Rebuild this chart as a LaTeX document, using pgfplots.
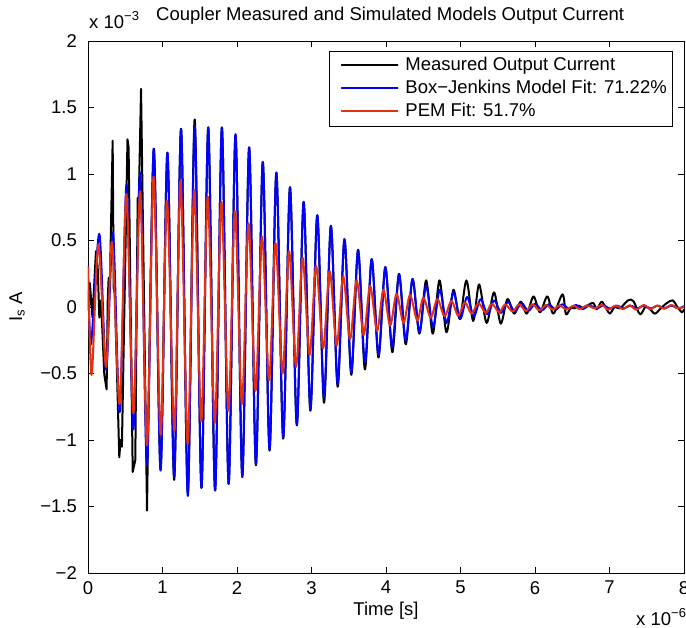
\documentclass[border=0pt]{standalone}
\usepackage{fontspec}
\setmainfont{Liberation Sans}
\usepackage{pgfplots}
\pgfplotsset{compat=1.18}
\definecolor{pemred}{RGB}{228,48,16}
\newcommand{\f}{\fontsize{18.5bp}{21bp}\selectfont}
\begin{document}
\begin{tikzpicture}
\path[use as bounding box] (-88bp,-55bp) rectangle (598bp,573bp);
\begin{axis}[
  at={(0,0)}, anchor=south west,
  scale only axis, width=596bp, height=532bp,
  xmin=0, xmax=8, ymin=-2, ymax=2,
  xtick={0,1,2,3,4,5,6,7,8}, xticklabels={0,1,2,3,4,5,6,7,8},
  ytick={-2,-1.5,-1,-0.5,0,0.5,1,1.5,2},
  yticklabels={−2,−1.5,−1,−0.5,0,0.5,1,1.5,2},
  tick align=inside, major tick length=6bp,
  axis line style={line width=0.8bp},
  every tick/.style={line width=0.8bp, black},
  tick label style={font=\f},
  xticklabel style={inner sep=0pt, yshift=-8bp},
  yticklabel style={inner sep=0pt, xshift=-11bp},
  title={Coupler Measured and Simulated Models Output Current},
  title style={at={(axis description cs:0.507,1)}, anchor=base, yshift=15bp, inner sep=0pt, font=\f},
  xlabel={Time [s]},
  xlabel style={at={(axis description cs:0.5,0)}, anchor=base, yshift=-42bp, inner sep=0pt, font=\f},
  ylabel={I\textsubscript{s} A},
  ylabel style={at={(axis description cs:-0.119,0.5)}, anchor=center, inner sep=0pt, font=\f},
  legend style={at={(1,1)}, anchor=north east, xshift=-12bp, yshift=-10bp, draw=black, fill=white,
    inner xsep=5bp, inner ysep=6bp, row sep=6bp, font=\f,
    nodes={inner sep=0pt, text height=13bp, text depth=4bp, anchor=base west},
    /tikz/every odd column/.append style={column sep=7bp}},
  legend cell align=left,
  legend image code/.code={\path (0bp,0bp); \draw[#1] (7bp,5bp) -- (63bp,5bp);},
  legend image post style={line width=1.6bp},
  every axis plot/.append style={line join=round, line cap=round},
]
\addplot[black, line width=2bp] coordinates {
(0.000,0.12) (0.012,-0.02) (0.025,0.18) (0.060,-0.08) (0.107,0.42) (0.130,0.30) (0.152,-0.08) (0.175,0.05)
(0.219,-0.51) (0.250,-0.62) (0.265,0.05) (0.277,0.22) (0.292,0.12) (0.331,1.25) (0.345,0.14) (0.360,0.10)
(0.420,-1.13) (0.437,-1.00) (0.455,-1.05) (0.530,1.26) (0.545,1.20) (0.600,-1.24) (0.635,-1.15) (0.667,0.82)
(0.680,0.75) (0.712,1.64) (0.792,-1.53)
};
\addplot[black, line width=2bp, smooth, forget plot] coordinates {
(0.792,-1.53) (0.883,1.19) (0.974,-1.22) (1.066,1.16) (1.157,-1.30) (1.249,1.34) (1.340,-1.40) (1.432,1.41)
(1.523,-1.36) (1.614,1.35) (1.706,-1.38) (1.797,1.35) (1.888,-1.33) (1.980,1.29) (2.071,-1.27) (2.163,1.20)
(2.254,-1.19) (2.346,1.09) (2.437,-1.08) (2.528,1.01) (2.620,-0.99) (2.711,0.90) (2.803,-0.89) (2.894,0.79)
(2.985,-0.78) (3.077,0.69) (3.168,-0.72) (3.260,0.61) (3.351,-0.60) (3.442,0.51) (3.534,-0.51) (3.625,0.43)
(3.717,-0.47) (3.808,0.36) (3.899,-0.38) (3.991,0.30) (4.085,-0.34) (4.175,0.245) (4.265,-0.28) (4.356,0.21)
(4.448,-0.20) (4.539,0.20) (4.628,-0.20) (4.718,0.20) (4.812,-0.19) (4.905,0.13) (4.990,-0.09) (5.080,0.20)
(5.170,-0.105) (5.250,0.17) (5.350,-0.12) (5.450,0.11) (5.540,-0.125) (5.630,0.06) (5.720,-0.05) (5.810,0.04)
(5.890,-0.05) (5.980,0.08) (6.067,-0.04) (6.165,0.08) (6.246,-0.05) (6.370,0.095) (6.416,-0.055) (6.480,-0.005)
(6.530,-0.01) (6.590,0.01) (6.650,-0.01) (6.700,0.01) (6.780,0.03) (6.830,-0.015) (6.895,0.04) (6.960,-0.015)
(7.006,-0.05) (7.070,0.0) (7.140,-0.01) (7.250,0.05) (7.320,0.045) (7.410,-0.055) (7.480,0.0) (7.540,-0.015)
(7.610,-0.05) (7.680,-0.015) (7.770,0.03) (7.850,0.05) (7.900,0.01) (7.970,-0.04) (8.000,-0.02)
};
\addplot[blue, line width=2bp, smooth] coordinates {
(0,0.30) (0.040,-0.28)
(0.152,0.55) (0.243,-0.47) (0.335,0.56) (0.426,-0.79) (0.518,0.92) (0.609,-0.92)
(0.700,1.01) (0.792,-1.19) (0.883,1.19) (0.974,-1.23) (1.066,1.16) (1.157,-1.28)
(1.249,1.34) (1.340,-1.42) (1.432,1.36) (1.523,-1.36) (1.614,1.35) (1.706,-1.38)
(1.797,1.35) (1.888,-1.33) (1.980,1.30) (2.071,-1.28) (2.163,1.20) (2.254,-1.18)
(2.346,1.09) (2.437,-1.07) (2.528,1.01) (2.620,-0.98) (2.711,0.90) (2.803,-0.88)
(2.894,0.79) (2.985,-0.77) (3.077,0.69) (3.168,-0.68) (3.260,0.61) (3.351,-0.58)
(3.442,0.51) (3.534,-0.49) (3.625,0.43) (3.717,-0.42) (3.808,0.36) (3.899,-0.36)
(3.991,0.30) (4.082,-0.30) (4.174,0.25) (4.265,-0.25) (4.356,0.21) (4.448,-0.19)
(4.539,0.16) (4.631,-0.15) (4.722,0.13) (4.813,-0.12) (4.905,0.11) (4.996,-0.09)
(5.088,0.075) (5.179,-0.07) (5.270,0.06) (5.362,-0.055) (5.453,0.05) (5.545,-0.045)
(5.636,0.04) (5.727,-0.035) (5.819,0.03) (5.910,-0.03) (6.002,0.025) (6.093,-0.025)
(6.184,0.02) (6.276,-0.02) (6.367,0.02) (6.459,-0.015) (6.550,0.015) (6.641,-0.015)
(6.733,0.012) (6.824,-0.012) (6.916,0.012) (7.007,-0.012) (7.098,0.01) (7.190,-0.01)
(7.281,0.01) (7.373,-0.01) (7.464,0.01) (7.555,-0.01) (7.647,0.01) (7.738,-0.01)
(7.830,0.01) (7.921,-0.01) (8.000,0.005)
};
\addplot[color=pemred, line width=2bp, smooth] coordinates {
(0,0.30) (0.049,-0.51)
(0.139,0.47) (0.242,-0.45) (0.322,0.49) (0.425,-0.73) (0.515,0.85) (0.610,-0.80)
(0.700,0.87) (0.792,-1.04) (0.880,0.98) (0.975,-0.96) (1.060,0.80) (1.160,-0.93)
(1.242,0.95) (1.338,-1.03) (1.425,0.88) (1.520,-0.86) (1.607,0.83) (1.702,-0.87)
(1.790,0.79) (1.885,-0.78) (1.972,0.72) (2.066,-0.73) (2.154,0.63) (2.248,-0.63)
(2.336,0.53) (2.430,-0.55) (2.517,0.48) (2.611,-0.50) (2.699,0.42) (2.793,-0.45)
(2.880,0.37) (2.974,-0.36) (3.062,0.31) (3.156,-0.31) (3.244,0.27) (3.338,-0.29)
(3.425,0.23) (3.518,-0.24) (3.606,0.20) (3.700,-0.21) (3.787,0.16) (3.880,-0.18)
(3.965,0.13) (4.055,-0.14) (4.142,0.10) (4.235,-0.12) (4.322,0.09) (4.420,-0.10)
(4.502,0.07) (4.600,-0.08) (4.690,0.06) (4.785,-0.07) (4.878,0.045) (4.970,-0.065)
(5.058,0.035) (5.150,-0.05) (5.240,0.03) (5.340,-0.045) (5.420,0.025) (5.520,-0.04)
(5.600,0.02) (5.700,-0.035) (5.785,0.02) (5.880,-0.03) (5.965,0.02) (6.060,-0.025)
(6.150,0.015) (6.240,-0.02) (6.330,0.012) (6.420,-0.018) (6.520,0.01) (6.600,-0.015)
(6.700,0.012) (6.800,-0.01) (6.900,0.015) (6.980,-0.02) (7.080,0.01) (7.180,-0.015)
(7.270,0.012) (7.360,-0.02) (7.460,0.015) (7.550,-0.015) (7.640,0.01) (7.730,-0.012)
(7.830,0.015) (7.920,-0.01) (8.000,0.0)
};
\legend{Measured Output Current, Box−Jenkins Model Fit: 71.22\%, PEM Fit: 51.7\%}
\end{axis}
\node[anchor=base west, inner sep=0pt, font=\f] at (1bp,544bp) {x 10\raisebox{8bp}{\fontsize{13bp}{13bp}\selectfont −3}};
\node[anchor=base west, inner sep=0pt, font=\f] at (548bp,-52bp) {x 10\raisebox{8bp}{\fontsize{13bp}{13bp}\selectfont −6}};
\end{tikzpicture}
\end{document}
